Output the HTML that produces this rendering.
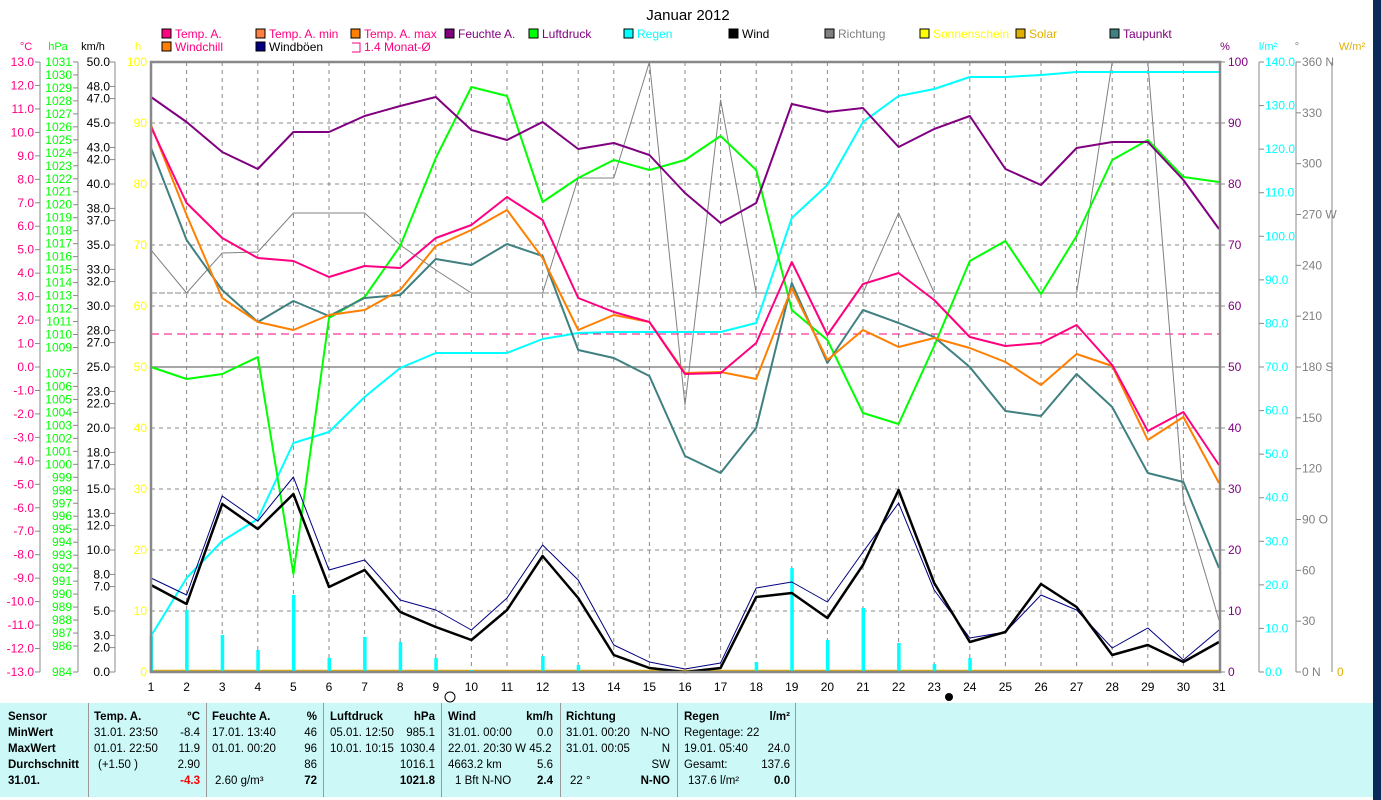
<!DOCTYPE html>
<html><head><meta charset="utf-8"><style>
body{margin:0;background:#fff;width:1381px;height:800px;overflow:hidden;font-family:"Liberation Sans",sans-serif}
svg{position:absolute;left:0;top:0}
text{font-family:"Liberation Sans",sans-serif;font-size:11px}
#tbl{position:absolute;left:0;top:703px;width:1373px;height:94px;background:#ccf8f8}
#tbl div{position:absolute;font-size:11.5px;font-weight:bold;white-space:nowrap;font-family:"Liberation Sans Narrow","Liberation Sans",sans-serif}
.n{font-weight:normal!important}
</style></head><body>
<div id="tbl"></div>
<svg id="s" width="1381" height="800" xmlns="http://www.w3.org/2000/svg"></svg>
<script>
const S=document.getElementById('s');let h='';
const X=d=>151+(d-1)*(1219-151)/30;
const L=(x1,y1,x2,y2,c,w,da)=>h+=`<line x1="${x1}" y1="${y1}" x2="${x2}" y2="${y2}" stroke="${c}" stroke-width="${w||1}" ${da?`stroke-dasharray="${da}"`:''}/>`;
const T=(x,y,t,c,a,sz)=>h+=`<text x="${x}" y="${y}" fill="${c}" text-anchor="${a||'start'}" ${sz?`style="font-size:${sz}px"`:''}>${t}</text>`;
h+=`<rect x="1373" y="0" width="8" height="800" fill="#0a2a5a"/>`;
T(688,20,'Januar 2012','#000','middle',15);
for(let d=2;d<=30;d++)L(X(d),62,X(d),672,'#888',1,'4,4');
for(let i=1;i<10;i++){let y=62+i*61;L(151,y,1219,y,'#888',1,'4,4');}
const Y=v=>672-v*6.1;
for(let t=-13;t<=13;t++){let y=367-t*23.46;L(35,y,40,y,'#888');T(34,y+4,t.toFixed(1),'#ff0080','end',12);}
T(26,50,'°C','#ff0080','middle');L(40,62,40,672,'#888');
for(let p=984;p<=1031;p++){if(p==985||p==1008)continue;let y=672-(p-984)*12.98;L(73,y,78,y,'#888');T(72,y+4,p,'#00ff00','end',12);}
T(58,50,'hPa','#00ff00','middle');L(78,62,78,672,'#888');
[50,48,47,45,43,42,40,38,37,35,33,32,30,28,27,25,23,22,20,18,17,15,13,12,10,8,7,5,3,2,0].forEach(v=>{let y=672-v*12.2;L(110,y,115,y,'#888');T(110,y+4,v.toFixed(1),'#000','end',12);});
T(93,50,'km/h','#000','middle');L(115,62,115,672,'#888');
for(let v=0;v<=100;v+=10)T(147,Y(v)+4,v,'#ffff00','end',12);T(138,50,'h','#ffff00','middle');
for(let v=0;v<=100;v+=10){L(1220,Y(v),1225,Y(v),'#888');T(1228,Y(v)+4,v,'#800080','start',12);}T(1225,50,'%','#800080','middle');
for(let v=0;v<=140;v+=10){let y=672-v*610/140;L(1259,y,1264,y,'#888');T(1265,y+4,v.toFixed(1),'#00ffff','start',12);}L(1259,62,1259,672,'#888');T(1268,50,'l/m²','#00ffff','middle');
const dl={360:'360 N',270:'270 W',180:'180 S',90:'90  O',0:'0   N'};
for(let v=0;v<=360;v+=30){let y=672-v*610/360;L(1296,y,1301,y,'#888');T(1302,y+4,dl[v]||v,'#808080','start',12);}L(1296,62,1296,672,'#888');T(1297,50,'°','#808080','middle');
L(1332,62,1332,672,'#888');T(1337,676,'0','#e0b000','start',12);T(1352,50,'W/m²','#e0b000','middle');
for(let d=1;d<=31;d++)T(X(d),691,d,'#000','middle',12);
h+=`<circle cx="450" cy="697" r="5" fill="none" stroke="#000"/><circle cx="949" cy="697" r="4" fill="#000"/>`;
L(151,367,1219,367,'#888',1.5);L(151,334,1219,334,'#ff0080',1,'8,5');L(151,293,1219,293,'#888',1,'6,2');
L(151,670.5,1219,670.5,'#e0b000',1.5);
const rb={1:636,2:610,3:635,4:650,5:595,6:658,7:637,8:642,9:658,10:670,12:656,13:665,18:662,19:568,20:640,21:608,22:643,23:664,24:658};
for(let d in rb)h+=`<rect x="${X(+d)-1.5}" y="${rb[d]}" width="3.5" height="${672-rb[d]}" fill="#00ffff"/>`;
const P=(a,c,w)=>h+=`<polyline fill="none" stroke="${c}" stroke-width="${w}" stroke-linejoin="round" points="${a.map((y,i)=>X(i+1)+','+y).join(' ')}"/>`;
P([250,293,253,252,213,213,213,245,270,293,293,293,178,178,62,405,100,293,293,293,293,213,293,293,293,293,293,62,62,500,620],'#808080',1);
P([636,578,541,519,443,432,397,368,353,353,353,339,333,332,332,332,332,323,218,185,122,96,89,77,77,75,72,72,72,72,72],'#00ffff',2);
P([367,379,374,357,574,318,297,246,158,87,96,202,178,160,170,160,136,170,310,340,413,424,346,261,241,294,236,160,140,177,182],'#00ff00',2);
P([97,122,152,169,132,132,116,106,97,130,140,122,149,143,155,193,223,203,104,112,108,147,129,116,169,185,148,142,142,180,229],'#800080',2);
P([148,240,290,322,301,316,298,295,259,265,244,256,350,358,376,456,473,428,283,363,310,323,337,367,411,416,374,407,473,482,568],'#408080',2);
P([125,215,298,322,330,315,310,290,246,230,210,258,330,315,322,373,372,379,288,360,330,347,338,348,362,385,354,366,440,417,483],'#ff8000',2);
P([127,203,238,258,261,277,266,268,238,225,197,220,298,312,322,374,373,343,262,335,284,273,300,337,346,343,325,365,431,412,465],'#ff0080',2);
P([578,595,496,521,477,570,560,600,610,630,598,545,580,645,662,669,663,588,582,602,552,503,590,638,632,595,610,648,628,660,630],'#000080',1);
P([585,604,504,529,494,587,570,612,627,640,610,556,598,655,668,672,668,597,593,618,565,490,583,642,632,584,607,655,645,662,642],'#000',2.5);
h+=`<rect x="151" y="62" width="1069" height="610" fill="none" stroke="#888" stroke-width="2.5"/>`;
const lg=[[163,38,'#ff0080','Temp. A.','#ff0080'],[257,38,'#ff8040','Temp. A. min','#ff0080'],[352,38,'#ff8000','Temp. A. max','#ff0080'],[446,38,'#800080','Feuchte A.','#800080'],[530,38,'#00ff00','Luftdruck','#800080'],[625,38,'#00ffff','Regen','#00ffff'],[730,38,'#000','Wind','#000'],[826,38,'#808080','Richtung','#808080'],[921,38,'#ffff00','Sonnenschein','#ffff00'],[1017,38,'#e0b000','Solar','#e0b000'],[1111,38,'#408080','Taupunkt','#800080'],[163,51,'#ff8000','Windchill','#ff0080'],[257,51,'#000080','Windböen','#000']];
lg.forEach(l=>{h+=`<rect x="${l[0]-1}" y="${l[1]-9}" width="9" height="9" fill="${l[2]}" stroke="#000"/>`;T(l[0]+12,l[1],l[3],l[4],'start',12);});
h+=`<path d="M352 43 h8 v9 h-8" fill="none" stroke="#ff0080"/>`;T(364,51,'1.4 Monat-Ø','#ff0080','start',12);
S.innerHTML=h;
const tb=document.getElementById('tbl');let th='';
[88,206,323,441,560,677,795].forEach(x=>th+=`<div style="left:${x}px;top:0;width:1px;height:94px;background:#999"></div>`);
const rows=[16,32,48,64,80];
const C=(x,r,t,o)=>th+=`<div ${o||''} style="left:${x}px;top:${rows[r]-8}px">${t}</div>`;
const R=(x,r,t,o)=>th+=`<div ${o||''} style="right:${1373-x}px;top:${rows[r]-8}px">${t}</div>`;
['Sensor','MinWert','MaxWert','Durchschnitt','31.01.'].forEach((t,i)=>C(8,i,t));
C(94,0,'Temp. A.');R(200,0,'°C');C(94,1,'31.01.  23:50','class=n');R(200,1,'-8.4','class=n');C(94,2,'01.01.  22:50','class=n');R(200,2,'11.9','class=n');C(98,3,'(+1.50 )','class=n');R(200,3,'2.90','class=n');th+=`<div style="right:${1373-200}px;top:${rows[4]-8}px;color:#f00">-4.3</div>`;
C(212,0,'Feuchte A.');R(317,0,'%');C(212,1,'17.01.  13:40','class=n');R(317,1,'46','class=n');C(212,2,'01.01.  00:20','class=n');R(317,2,'96','class=n');R(317,3,'86','class=n');C(215,4,'2.60 g/m³','class=n');R(317,4,'72');
C(330,0,'Luftdruck');R(435,0,'hPa');C(330,1,'05.01.  12:50','class=n');R(435,1,'985.1','class=n');C(330,2,'10.01.  10:15','class=n');R(435,2,'1030.4','class=n');R(435,3,'1016.1','class=n');R(435,4,'1021.8');
C(448,0,'Wind');R(553,0,'km/h');C(448,1,'31.01.  00:00','class=n');R(553,1,'0.0','class=n');C(448,2,'22.01.  20:30 W 45.2','class=n');C(448,3,'4663.2 km','class=n');R(553,3,'5.6','class=n');C(455,4,'1 Bft N-NO','class=n');R(553,4,'2.4');
C(566,0,'Richtung');C(566,1,'31.01.  00:20','class=n');R(670,1,'N-NO','class=n');C(566,2,'31.01.  00:05','class=n');R(670,2,'N','class=n');R(670,3,'SW','class=n');C(570,4,'22 °','class=n');R(670,4,'N-NO');
C(684,0,'Regen');R(790,0,'l/m²');C(684,1,'Regentage: 22','class=n');C(684,2,'19.01.  05:40','class=n');R(790,2,'24.0','class=n');C(684,3,'Gesamt:','class=n');R(790,3,'137.6','class=n');C(688,4,'137.6 l/m²','class=n');R(790,4,'0.0');
tb.innerHTML=th;
</script>
</body></html>
